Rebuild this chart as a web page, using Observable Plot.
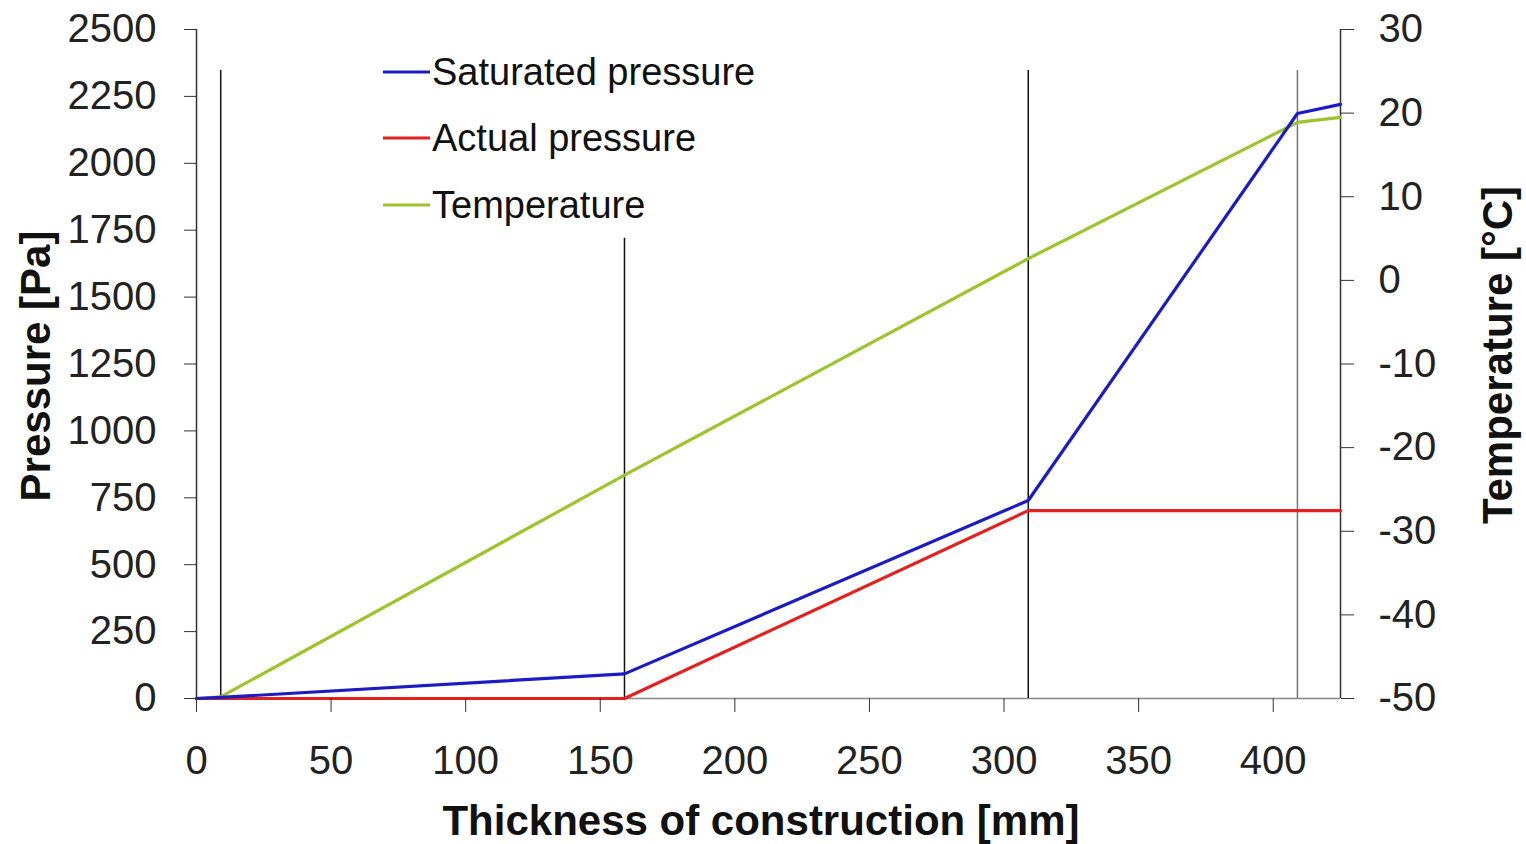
<!DOCTYPE html>
<html><head><meta charset="utf-8">
<script src="https://cdn.jsdelivr.net/npm/d3@7"></script>
<script src="https://cdn.jsdelivr.net/npm/@observablehq/plot@0.6"></script>
<style>body{margin:0;background:#fff}</style>
</head><body><div id="chart"></div>
<script>
// Data
const thickness = [0, 9, 159, 309, 409, 425];
const saturatedPressure = [0, 4, 92, 740, 2186, 2220];
const actualPressure = [0, 0, 0, 702, 702, 702];
const temperature = [-50, -49.8, -23.3, 2.6, 18.9, 19.5];
const layerBoundaries = [9, 159, 309, 409];
const boundaryTops = [2347, 1720, 2347, 2347];
const boundaryColors = ["#111", "#111", "#111", "#777"];
const xTicks = [0, 50, 100, 150, 200, 250, 300, 350, 400];
const pressureTicks = [0, 250, 500, 750, 1000, 1250, 1500, 1750, 2000, 2250, 2500];
const temperatureTicks = [-50, -40, -30, -20, -10, 0, 10, 20, 30];
const seriesNames = ["Saturated pressure", "Actual pressure", "Temperature"];
const seriesColors = ["#1c1cc4", "#e3211f", "#9dc42b"];

const tMin = -50, tMax = 30, pMax = 2500;
const toP = t => (t - tMin) * pMax / (tMax - tMin);
const toT = p => p * (tMax - tMin) / pMax + tMin;

const rows = thickness.map((x, i) => ({x, sat: saturatedPressure[i], act: actualPressure[i], temp: toP(temperature[i])}));
const bounds = layerBoundaries.map((x, i) => ({x, top: boundaryTops[i], c: boundaryColors[i]}));

const chart = Plot.plot({
  width: 1526, height: 844,
  marginLeft: 196, marginRight: 186, marginTop: 29, marginBottom: 146,
  style: {fontFamily: "'Liberation Sans', Arial, sans-serif", fontSize: "40px", color: "#222", background: "#fff"},
  x: {domain: [0, 425]},
  y: {domain: [0, 2500]},
  marks: [
    Plot.ruleY([0], {stroke: "#888", strokeWidth: 1.5}),
    Plot.ruleX(bounds, {x: "x", y1: 0, y2: "top", stroke: "c", strokeWidth: 1.5}),
    Plot.ruleX([0, 425], {y1: 0, y2: 2500, stroke: "#333", strokeWidth: 1.5}),
    Plot.line(rows, {x: "x", y: "temp", stroke: seriesColors[2], strokeWidth: 3.2}),
    Plot.line(rows, {x: "x", y: "act", stroke: seriesColors[1], strokeWidth: 3.2}),
    Plot.line(rows, {x: "x", y: "sat", stroke: seriesColors[0], strokeWidth: 3.2}),
    Plot.axisX(xTicks, {tickSize: 14, tickPadding: 33, fontSize: 40, label: null, stroke: "#333", tickFormat: d => String(d)}),
    Plot.axisY(pressureTicks, {anchor: "left", tickSize: 12, tickPadding: 28, fontSize: 40, label: null, stroke: "#333", tickFormat: d => String(d)}),
    Plot.axisY(temperatureTicks.map(toP), {anchor: "right", tickSize: 13, tickPadding: 25, fontSize: 40, label: null, stroke: "#333",
      tickFormat: p => String(Math.round(toT(p)))})
  ]
});

const svg = d3.select(chart);
// axis titles
svg.append("text").attr("x", 761).attr("y", 835).attr("text-anchor", "middle")
  .attr("font-size", 42).attr("font-weight", "bold").attr("fill", "#111")
  .text("Thickness of construction [mm]");
svg.append("text").attr("transform", "translate(50,366) rotate(-90)").attr("text-anchor", "middle")
  .attr("font-size", 42).attr("font-weight", "bold").attr("fill", "#111")
  .text("Pressure [Pa]");
svg.append("text").attr("transform", "translate(1512,355) rotate(-90)").attr("text-anchor", "middle")
  .attr("font-size", 42).attr("font-weight", "bold").attr("fill", "#111")
  .text("Temperature [°C]");
// legend
const legendY = [72, 138, 205];
seriesNames.forEach((name, i) => {
  svg.append("line").attr("x1", 383).attr("x2", 430).attr("y1", legendY[i]).attr("y2", legendY[i])
    .attr("stroke", seriesColors[i]).attr("stroke-width", 3);
  svg.append("text").attr("x", 432).attr("y", legendY[i]).attr("dy", "0.35em").attr("text-anchor", "start")
    .attr("font-size", 38).attr("fill", "#111").text(name);
});
document.getElementById("chart").append(chart);
</script>
</body></html>
